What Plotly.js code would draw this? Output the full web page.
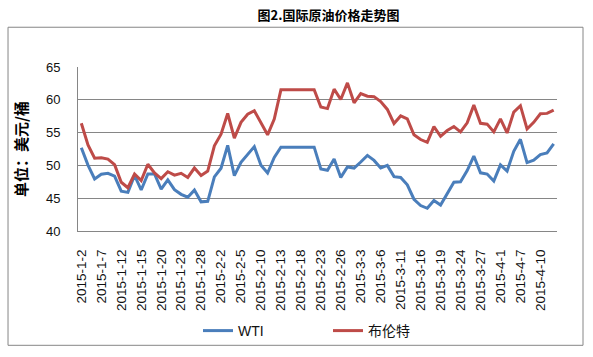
<!DOCTYPE html>
<html>
<head>
<meta charset="utf-8">
<script src="https://cdn.plot.ly/plotly-3.0.1.min.js"></script>
<style>
html,body{margin:0;padding:0;background:#fff;}
#chart{width:593px;height:357px;}
</style>
</head>
<body>
<div id="chart"></div>
<script>
var dates = [
"2015-1-2","2015-1-5","2015-1-6","2015-1-7","2015-1-8","2015-1-9",
"2015-1-12","2015-1-13","2015-1-14","2015-1-15","2015-1-16","2015-1-19",
"2015-1-20","2015-1-21","2015-1-22","2015-1-23","2015-1-26","2015-1-27",
"2015-1-28","2015-1-29","2015-1-30","2015-2-2","2015-2-3","2015-2-4",
"2015-2-5","2015-2-6","2015-2-9","2015-2-10","2015-2-11","2015-2-12",
"2015-2-13","2015-2-16","2015-2-17","2015-2-18","2015-2-19","2015-2-20",
"2015-2-23","2015-2-24","2015-2-25","2015-2-26","2015-2-27","2015-3-2",
"2015-3-3","2015-3-4","2015-3-5","2015-3-6","2015-3-9","2015-3-10",
"2015-3-11","2015-3-12","2015-3-13","2015-3-16","2015-3-17","2015-3-18",
"2015-3-19","2015-3-20","2015-3-23","2015-3-24","2015-3-25","2015-3-26",
"2015-3-27","2015-3-30","2015-3-31","2015-4-1","2015-4-2","2015-4-6",
"2015-4-7","2015-4-8","2015-4-9","2015-4-10","2015-4-13","2015-4-14"
];

var wti = [
52.69,50.04,47.93,48.65,48.79,48.36,
46.07,45.89,48.48,46.25,48.69,48.69,
46.39,47.78,46.31,45.59,45.15,46.23,
44.45,44.53,48.24,49.57,53.05,48.45,
50.48,51.69,52.86,50.02,48.84,51.21,
52.78,52.78,52.78,52.78,52.78,52.78,
49.45,49.25,50.99,48.17,49.76,49.59,
50.52,51.53,50.76,49.61,50.00,48.29,
48.17,47.05,44.84,43.88,43.46,44.66,
43.96,45.72,47.45,47.51,49.21,51.43,
48.87,48.68,47.60,50.09,49.14,52.14,
53.98,50.42,50.79,51.64,51.91,53.29
];

var brent = [
56.42,53.11,51.10,51.15,50.96,50.11,
47.43,46.59,48.69,47.67,50.17,48.84,
47.99,49.03,48.52,48.79,48.16,49.60,
48.47,49.13,52.99,54.75,57.91,54.16,
56.57,57.80,58.34,56.43,54.66,57.05,
61.52,61.52,61.52,61.52,61.52,61.52,
58.90,58.66,61.63,60.05,62.58,59.54,
60.95,60.55,60.48,59.73,58.53,56.39,
57.54,57.08,54.67,53.94,53.51,55.91,
54.43,55.32,55.92,55.11,56.48,59.19,
56.41,56.29,55.11,57.10,54.95,58.12,
59.10,55.55,56.57,57.87,57.93,58.43
];

var tickDates = [
"2015-1-2","2015-1-7","2015-1-12","2015-1-15","2015-1-20","2015-1-23",
"2015-1-28","2015-2-2","2015-2-5","2015-2-10","2015-2-13","2015-2-18",
"2015-2-23","2015-2-26","2015-3-3","2015-3-6","2015-3-11","2015-3-16",
"2015-3-19","2015-3-24","2015-3-27","2015-4-1","2015-4-7","2015-4-10"
];

var yTicks = [40,45,50,55,60,65];

var seriesNames = ["WTI","布伦特"];

var traces = [
  {x: dates, y: wti, name: seriesNames[0], type: "scatter", mode: "lines",
   line: {color: "#4A7EBB", width: 3}},
  {x: dates, y: brent, name: seriesNames[1], type: "scatter", mode: "lines",
   line: {color: "#BE4B48", width: 3}}
];

var layout = {
  width: 593, height: 357,
  margin: {l: 78, r: 36, t: 67, b: 125},
  paper_bgcolor: "#ffffff",
  plot_bgcolor: "#ffffff",
  showlegend: true,
  title: {
    text: "<b>图2.国际原油价格走势图</b>",
    font: {family: "Noto Sans CJK SC", size: 13, color: "#000"},
    x: 0.523, xref: "paper", xanchor: "center",
    y: 0.958, yanchor: "middle"
  },
  xaxis: {
    type: "category",
    range: [-0.5, dates.length - 0.5],
    tickvals: tickDates,
    ticktext: tickDates,
    tickangle: -90,
    tickfont: {family: "Liberation Sans, Arial", size: 13.5, color: "#111"},
    showgrid: false,
    zeroline: false,
    showline: true,
    linecolor: "#868686",
    linewidth: 1,
    ticks: "",
    ticklabelstandoff: 12,
    fixedrange: true
  },
  yaxis: {
    range: [40, 65],
    tickvals: yTicks,
    ticktext: yTicks.map(String),
    tickfont: {family: "Liberation Sans, Arial", size: 13, color: "#111"},
    showgrid: true,
    gridcolor: "#868686",
    gridwidth: 1,
    zeroline: false,
    showline: true,
    linecolor: "#868686",
    linewidth: 1,
    ticks: "",
    ticklabelstandoff: 14,
    title: {
      text: "<b>单位：美元/桶</b>",
      font: {family: "Noto Sans CJK SC", size: 15, color: "#000"},
      standoff: 14
    },
    fixedrange: true
  },
  legend: {
    orientation: "h",
    x: 0.2505, xanchor: "left",
    y: -0.6, yanchor: "middle",
    entrywidth: 85,
    entrywidthmode: "pixels",
    font: {family: "Liberation Sans, Noto Sans CJK SC", size: 14, color: "#111"},
    bgcolor: "rgba(0,0,0,0)"
  },
  shapes: [
    {type: "rect", xref: "paper", yref: "paper",
     x0: -0.1461, x1: 1.0543, y0: -0.697, y1: 1.2424,
     line: {color: "#868686", width: 1}, fillcolor: "rgba(0,0,0,0)", layer: "below"}
  ]
};

Plotly.newPlot("chart", traces, layout, {displayModeBar: false, staticPlot: true});
</script>
</body>
</html>
